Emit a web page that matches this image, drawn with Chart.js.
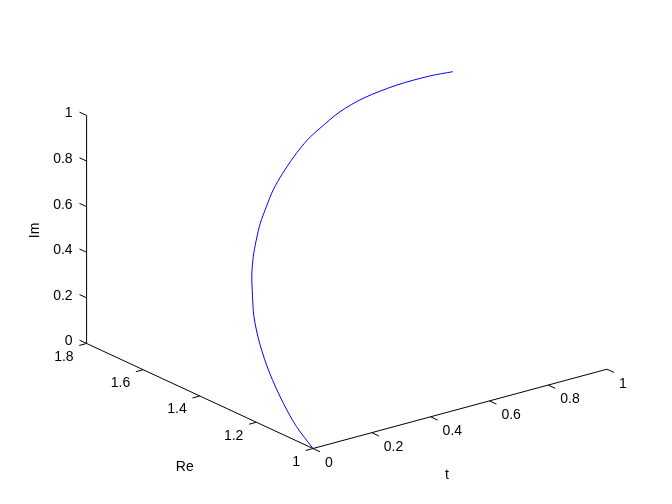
<!DOCTYPE html>
<html>
<head>
<meta charset="utf-8">
<script src="https://cdn.jsdelivr.net/npm/chart.js@4/dist/chart.umd.min.js"></script>
<style>
html, body { margin: 0; padding: 0; background: #fff; }
canvas { display: block; }
</style>
</head>
<body>
<canvas id="myChart" width="672" height="504"></canvas>
<script>
// curve samples
var tValues  = [0, 0.05, 0.11, 0.17, 0.24, 0.29, 0.34, 0.38, 0.41, 0.45, 0.48, 0.52, 0.55, 0.59, 0.63, 0.67, 0.71, 0.76, 0.81, 0.88, 0.95, 1];
var reValues = [1, 1.110, 1.219, 1.330, 1.438, 1.510, 1.567, 1.611, 1.637, 1.668, 1.685, 1.705, 1.712, 1.720, 1.722, 1.716, 1.713, 1.694, 1.664, 1.618, 1.574, 1.545];
var imValues = [0, 0.015, 0.034, 0.082, 0.126, 0.184, 0.228, 0.277, 0.332, 0.373, 0.426, 0.474, 0.533, 0.587, 0.645, 0.708, 0.747, 0.813, 0.872, 0.932, 0.973, 0.991];

// axis ticks
var tTicks  = [0, 0.2, 0.4, 0.6, 0.8, 1];
var reTicks = [1, 1.2, 1.4, 1.6, 1.8];
var imTicks = [0, 0.2, 0.4, 0.6, 0.8, 1];
var tTickLabels  = ["0", "0.2", "0.4", "0.6", "0.8", "1"];
var reTickLabels = ["1", "1.2", "1.4", "1.6", "1.8"];
var imTickLabels = ["0", "0.2", "0.4", "0.6", "0.8", "1"];

// view: where the 3d box lands on the page
var origin = {x: 313, y: 448.5};     // t=0, Re=1, Im=0
var tDir   = {x: 294, y: -79.3};     // one unit of t
var reDir  = {x: -283, y: -131.3};   // one unit of Re
var imDir  = {x: 0, y: -228};        // one unit of Im
var tickLen = 0.025;

function project(t, re, im) {
    return {
        x: origin.x + t * tDir.x + (re - 1) * reDir.x + im * imDir.x,
        y: origin.y + t * tDir.y + (re - 1) * reDir.y + im * imDir.y
    };
}

// box lines and ticks, split by gaps
var gap = {x: NaN, y: NaN};
var axisPoints = [];
function seg(a, b) {
    axisPoints.push(a, b, gap);
}
seg(project(0, 1.8, 0), project(0, 1.8, 1));
seg(project(0, 1, 0), project(0, 1.8, 0));
seg(project(0, 1, 0), project(1, 1, 0));
imTicks.forEach(function (v) { seg(project(0, 1.8, v), project(0, 1.8 + tickLen, v)); });
reTicks.forEach(function (v) { seg(project(0, v, 0), project(-tickLen, v, 0)); });
tTicks.forEach(function (v) { seg(project(v, 1, 0), project(v, 1 - tickLen, 0)); });

var curvePoints = tValues.map(function (t, i) {
    return project(t, reValues[i], imValues[i]);
});

var labelPlugin = {
    id: 'labels3d',
    afterDraw: function (chart) {
        var ctx = chart.ctx;
        var sx = chart.scales.x, sy = chart.scales.y;
        function px(p) { return {x: sx.getPixelForValue(p.x), y: sy.getPixelForValue(p.y)}; }
        ctx.save();
        ctx.fillStyle = '#000';
        ctx.font = '14px "Liberation Sans", Arial, sans-serif';
        ctx.textBaseline = 'middle';

        ctx.textAlign = 'right';
        imTicks.forEach(function (v, i) {
            var p = px(project(0, 1.8, v));
            ctx.fillText(imTickLabels[i], p.x - 14, p.y - 2);
        });
        reTicks.forEach(function (v, i) {
            var p = px(project(0, v, 0));
            ctx.fillText(reTickLabels[i], p.x - 13, p.y + 13.5);
        });
        ctx.textAlign = 'left';
        tTicks.forEach(function (v, i) {
            var p = px(project(v, 1, 0));
            ctx.fillText(tTickLabels[i], p.x + 12, p.y + 14.5);
        });

        // axis titles
        ctx.textAlign = 'center';
        var pr = px(project(0, 1.4, 0));
        ctx.fillText('Re', pr.x - 15, pr.y + 71);
        var pt = px(project(0.5, 1, 0));
        ctx.fillText('t', pt.x - 13, pt.y + 66);
        var pi = px(project(0, 1.8, 0.5));
        ctx.translate(pi.x - 51, pi.y + 1);
        ctx.rotate(-Math.PI / 2);
        ctx.fillText('Im', 0, 0);
        ctx.restore();
    }
};

var ctx = document.getElementById('myChart').getContext('2d');
var chart = new Chart(ctx, {
    type: 'scatter',
    data: {
        datasets: [
            {
                data: axisPoints,
                showLine: true,
                spanGaps: false,
                borderColor: '#000',
                borderWidth: 1,
                pointRadius: 0,
                tension: 0
            },
            {
                data: curvePoints,
                showLine: true,
                borderColor: 'rgb(0, 0, 255)',
                borderWidth: 1,
                pointRadius: 0,
                tension: 0.3
            }
        ]
    },
    options: {
        responsive: false,
        animation: false,
        devicePixelRatio: 1,
        events: [],
        layout: { padding: 0 },
        plugins: { legend: { display: false }, tooltip: { enabled: false } },
        scales: {
            x: { type: 'linear', min: 0, max: 672, display: false },
            y: { type: 'linear', min: 0, max: 504, reverse: true, display: false }
        }
    },
    plugins: [labelPlugin]
});
</script>
</body>
</html>
